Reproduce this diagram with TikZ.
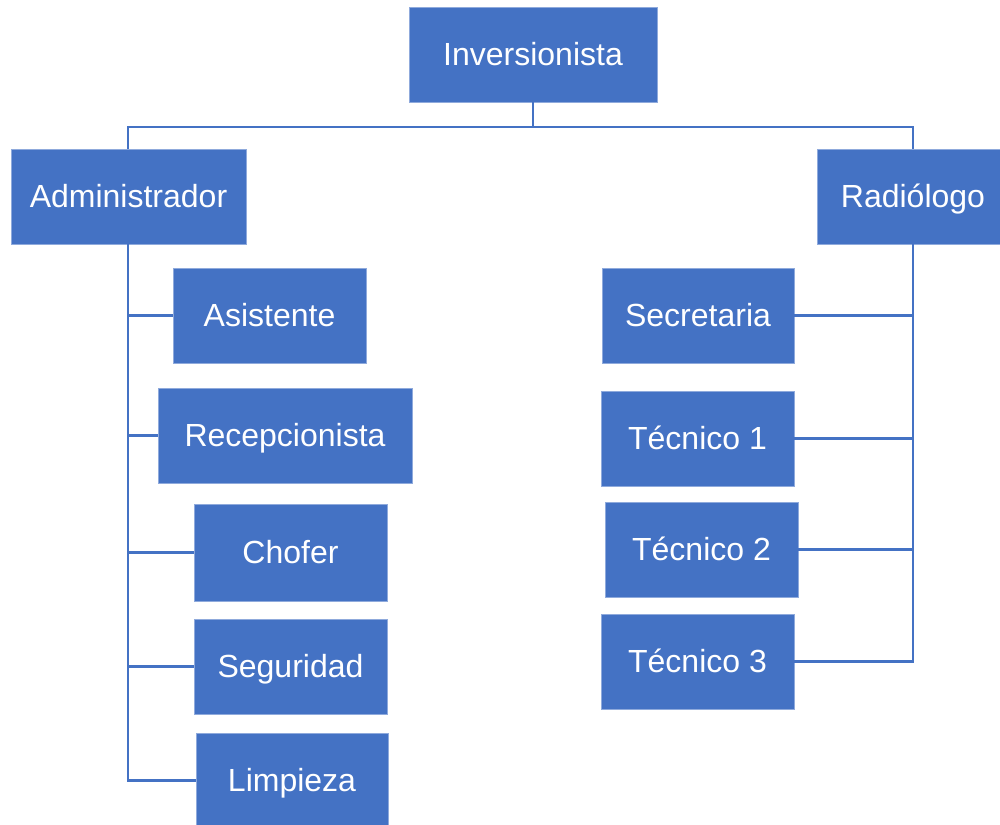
\documentclass[tikz,border=0pt]{standalone}
\usepackage{fontspec}
\setmainfont{Liberation Sans}
\definecolor{boxblue}{HTML}{4472C4}
\definecolor{lineblue}{HTML}{4472C4}
\begin{document}
\begin{tikzpicture}[x=0.75pt,y=-0.75pt,
  box/.style={fill=boxblue, draw=boxblue!60!white, line width=0.5pt, text=white, inner sep=0pt,
    font=\fontsize{24}{28}\selectfont, text height=17.2pt, text depth=0pt, minimum height=71.25pt},
  conn/.style={draw=lineblue, line width=1.8pt}]
\useasboundingbox (0,0) rectangle (1000,825);
% nodes
\node[box, minimum width=186pt] (inv) at (533,54.5) {Inversionista};
\node[box, minimum width=176.25pt] (adm) at (128.5,196.5) {Administrador};
\node[box, minimum width=144pt] (rad) at (913,196.5) {Radiólogo};
\node[box, minimum width=144.75pt] (asis) at (269.5,315.5) {Asistente};
\node[box, minimum width=190.5pt] (rece) at (285,435.5) {Recepcionista};
\node[box, minimum width=144.75pt, minimum height=72.75pt] (chof) at (290.5,552.5) {Chofer};
\node[box, minimum width=144.75pt] (segu) at (290.5,666.5) {Seguridad};
\node[box, minimum width=144pt] (limp) at (292,780.5) {Limpieza};
\node[box, minimum width=144pt] (secr) at (698,315.5) {Secretaria};
\node[box, minimum width=144.75pt] (tec1) at (697.5,438.5) {Técnico 1};
\node[box, minimum width=144.75pt] (tec2) at (701.5,549.5) {Técnico 2};
\node[box, minimum width=144.75pt] (tec3) at (697.5,661.5) {Técnico 3};
% coordinates
\coordinate (top) at (533,127);
\coordinate (ltop) at (128,127);
\coordinate (rtop) at (913,127);
\coordinate (lsp) at (128,244);
\coordinate (rsp) at (913,244);
% connectors
\draw[conn] (inv.south) -- (top);
\draw[conn] (ltop |- adm.north) -- (ltop) -- (rtop) -- (rtop |- rad.north);
\draw[conn] (lsp) |- (limp.west);
\draw[conn] (lsp |- asis.west) -- (asis.west);
\draw[conn] (lsp |- rece.west) -- (rece.west);
\draw[conn] (lsp |- chof.west) -- (chof.west);
\draw[conn] (lsp |- segu.west) -- (segu.west);
\draw[conn] (rsp) |- (tec3.east);
\draw[conn] (rsp |- secr.east) -- (secr.east);
\draw[conn] (rsp |- tec1.east) -- (tec1.east);
\draw[conn] (rsp |- tec2.east) -- (tec2.east);
\end{tikzpicture}
\end{document}
